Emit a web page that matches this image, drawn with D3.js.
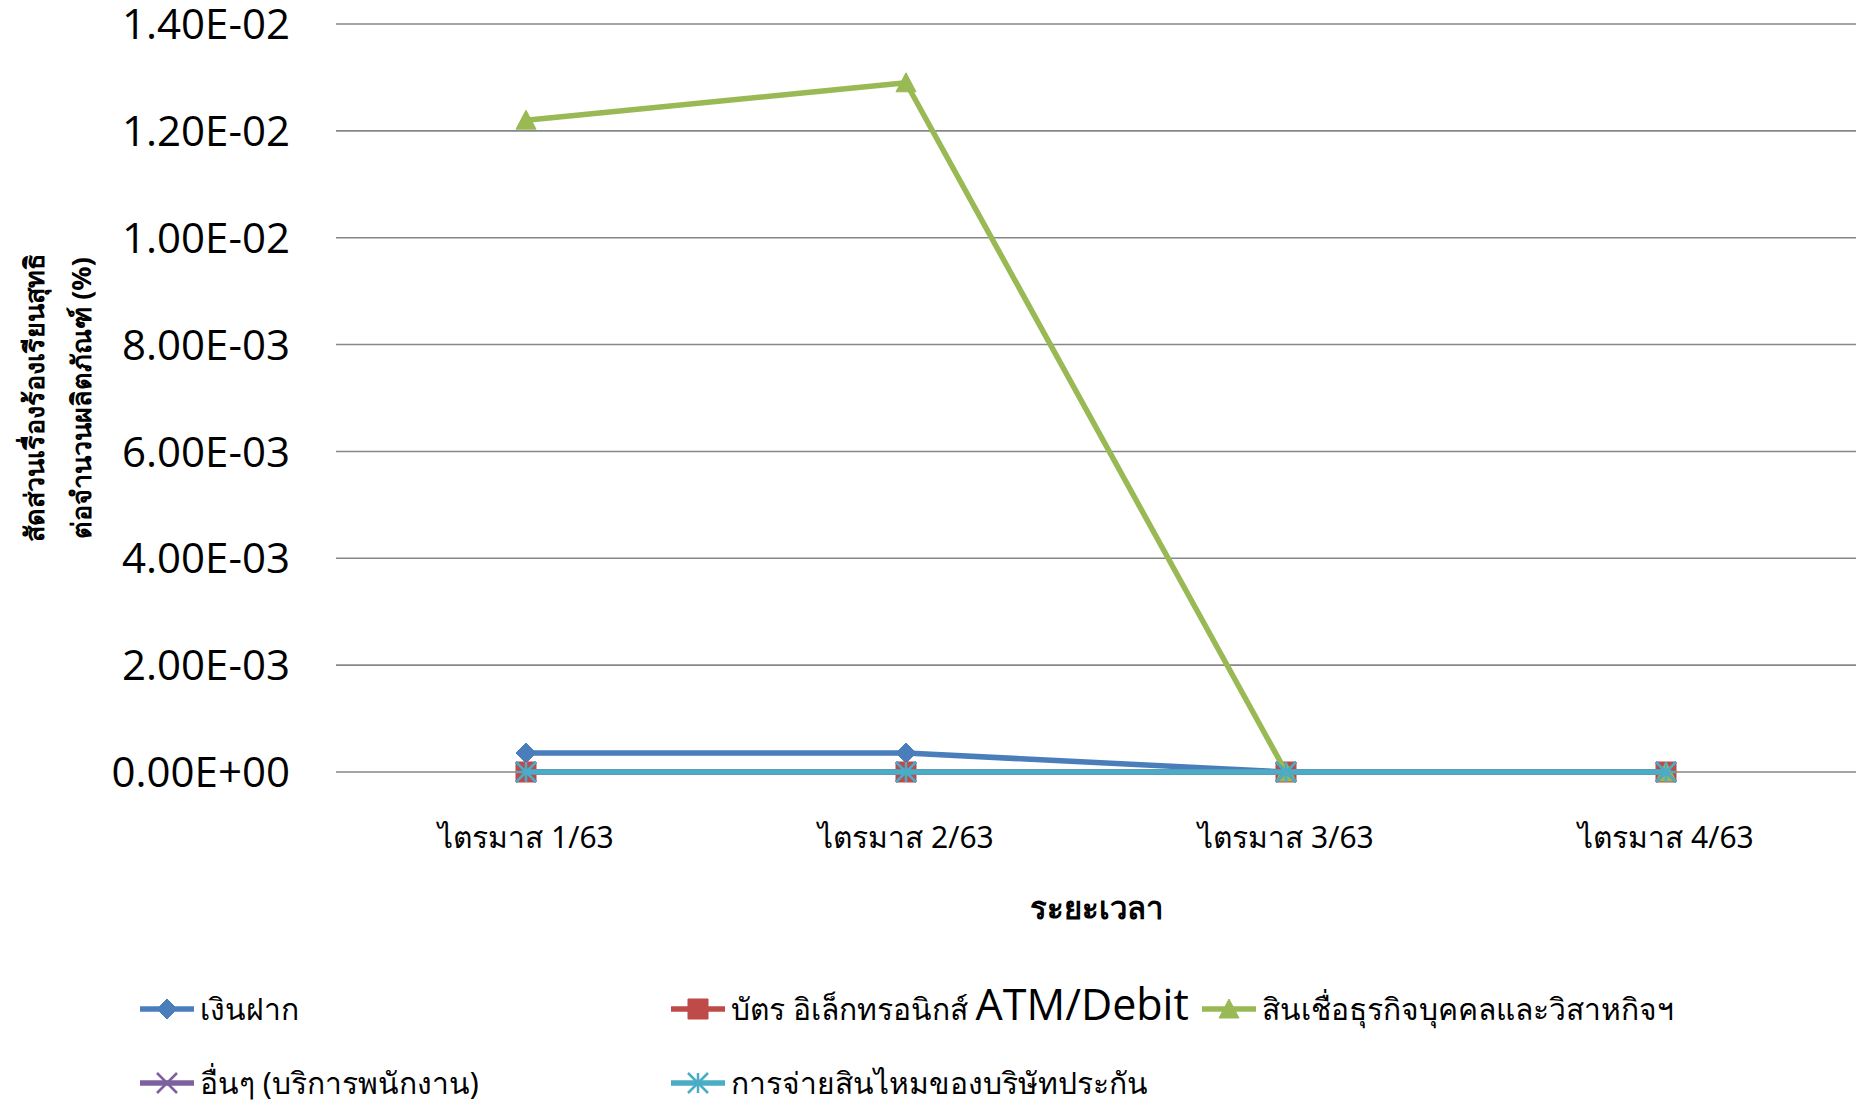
<!DOCTYPE html>
<html>
<head>
<meta charset="utf-8">
<script src="https://cdn.jsdelivr.net/npm/d3@7"></script>
<style>
  body { margin: 0; background: #fff; }
  svg text { fill: #000; }
</style>
</head>
<body>
<svg id="chart" width="1862" height="1105"></svg>
<script>
// data
const categories = ["ไตรมาส 1/63", "ไตรมาส 2/63", "ไตรมาส 3/63", "ไตรมาส 4/63"];
const seriesNames = ["เงินฝาก", "บัตร อิเล็กทรอนิกส์ ATM/Debit", "สินเชื่อธุรกิจบุคคลและวิสาหกิจฯ",
                     "อื่นๆ (บริการพนักงาน)", "การจ่ายสินไหมของบริษัทประกัน"];
const deposit = [3.55e-4, 3.55e-4, 0, 0];
const atmDebit = [0, 0, 0, 0];
const businessLoan = [0.0122, 0.0129, 0, 0];
const others = [0, 0, 0, 0];
const insurance = [0, 0, 0, 0];
const yTicks = [0, 0.002, 0.004, 0.006, 0.008, 0.01, 0.012, 0.014];
const colors = ["#4a7ebb", "#be4b48", "#98b954", "#7d60a0", "#4bacc6"];
const markers = ["diamond", "square", "triangle", "x", "star"];
const yTitle = ["สัดส่วนเรื่องร้องเรียนสุทธิ", "ต่อจำนวนผลิตภัณฑ์ (%)"];
const xTitle = "ระยะเวลา";

const allSeries = [deposit, atmDebit, businessLoan, others, insurance];

const latinFont = "'Open Sans', 'Noto Sans', sans-serif";
const thaiFont = "'Noto Sans', 'DejaVu Sans', sans-serif";

const svg = d3.select("#chart");
const plotL = 336, plotR = 1856, plotT = 24, plotB = 772;

const x = d3.scaleBand().domain(categories).range([plotL, plotR]);
const y = d3.scaleLinear().domain([0, 0.014]).range([plotB, plotT]);

function fmtExp(v) {
  const s = v.toExponential(2).toUpperCase();   // e.g. 1.40E-2
  const [m, e] = s.split("E");
  const sign = e[0] === "-" ? "-" : "+";
  const digits = e.replace(/[+-]/, "").padStart(2, "0");
  return m + "E" + sign + digits;
}

// gridlines
svg.append("g").selectAll("line")
  .data(yTicks).join("line")
  .attr("x1", plotL).attr("x2", plotR)
  .attr("y1", d => y(d)).attr("y2", d => y(d))
  .attr("stroke", "#878787").attr("stroke-width", 1.6);

// y tick labels
svg.append("g").selectAll("text")
  .data(yTicks).join("text")
  .attr("x", 290).attr("y", d => y(d))
  .attr("dy", "0.36em")
  .attr("text-anchor", "end")
  .style("font-family", latinFont).style("font-size", "42px")
  .text(fmtExp);

// x labels
svg.append("g").selectAll("text")
  .data(categories).join("text")
  .attr("x", d => x(d) + x.bandwidth() / 2).attr("y", 837)
  .attr("dy", "0.35em")
  .attr("text-anchor", "middle")
  .style("font-family", thaiFont).style("font-size", "30px")
  .text(d => d);

// axis titles
svg.append("text")
  .attr("x", (plotL + plotR) / 2).attr("y", 908).attr("dy", "0.35em")
  .attr("text-anchor", "middle")
  .style("font-family", thaiFont).style("font-size", "31px").style("font-weight", "bold")
  .text(xTitle);

const yt = svg.append("text")
  .attr("transform", `translate(0,${(plotT + plotB) / 2}) rotate(-90)`)
  .attr("text-anchor", "middle")
  .style("font-family", thaiFont).style("font-size", "27px").style("font-weight", "bold");
yt.selectAll("tspan").data(yTitle).join("tspan")
  .attr("x", 0).attr("y", (d, i) => i === 0 ? 44 : 91)
  .text(d => d);

// marker shapes
function markerPath(type) {
  const r = 10;
  switch (type) {
    case "diamond": return `M0,${-r}L${r},0L0,${r}L${-r},0Z`;
    case "square": return `M${-r},${-r}H${r}V${r}H${-r}Z`;
    case "triangle": return `M0,${-r}L${r},${r * 0.9}L${-r},${r * 0.9}Z`;
    case "x": return `M${-r},${-r}L${r},${r}M${-r},${r}L${r},${-r}`;
    case "star": return `M${-r},${-r}L${r},${r}M${-r},${r}L${r},${-r}M0,${-r}V${r}M${-r},0H${r}`;
  }
}
function drawMarker(g, type, color) {
  const filled = type === "diamond" || type === "square" || type === "triangle";
  g.append("path")
    .attr("d", markerPath(type))
    .attr("fill", filled ? color : "none")
    .attr("stroke", color)
    .attr("stroke-width", filled ? 1 : 2.5);
}

const line = d3.line()
  .x((d, i) => x(categories[i]) + x.bandwidth() / 2)
  .y(d => y(d));

const plot = svg.append("g");
allSeries.forEach((vals, si) => {
  const g = plot.append("g");
  g.append("path").datum(vals)
    .attr("d", line)
    .attr("fill", "none")
    .attr("stroke", colors[si])
    .attr("stroke-width", 5.5)
    .attr("stroke-linejoin", "round");
  vals.forEach((v, i) => {
    const m = g.append("g")
      .attr("transform", `translate(${x(categories[i]) + x.bandwidth() / 2},${y(v)})`);
    drawMarker(m, markers[si], colors[si]);
  });
});

// legend
const legendPos = [[140, 1009], [671, 1009], [1202, 1009], [140, 1083], [671, 1083]];
seriesNames.forEach((name, si) => {
  const [lx, ly] = legendPos[si];
  const g = svg.append("g").attr("transform", `translate(${lx},${ly})`);
  g.append("line").attr("x1", 0).attr("x2", 54)
    .attr("stroke", colors[si]).attr("stroke-width", 5.5);
  const m = g.append("g").attr("transform", "translate(27,0)");
  drawMarker(m, markers[si], colors[si]);
  const t = g.append("text").attr("x", 60).attr("y", 0).attr("dy", "0.35em")
    .style("font-family", thaiFont).style("font-size", "30px");
  if (si === 1) {
    t.append("tspan").text("บัตร อิเล็กทรอนิกส์ ");
    t.append("tspan").style("font-family", latinFont).style("font-size", "43px").text("ATM/Debit");
  } else {
    t.text(name);
  }
});
</script>
</body>
</html>
